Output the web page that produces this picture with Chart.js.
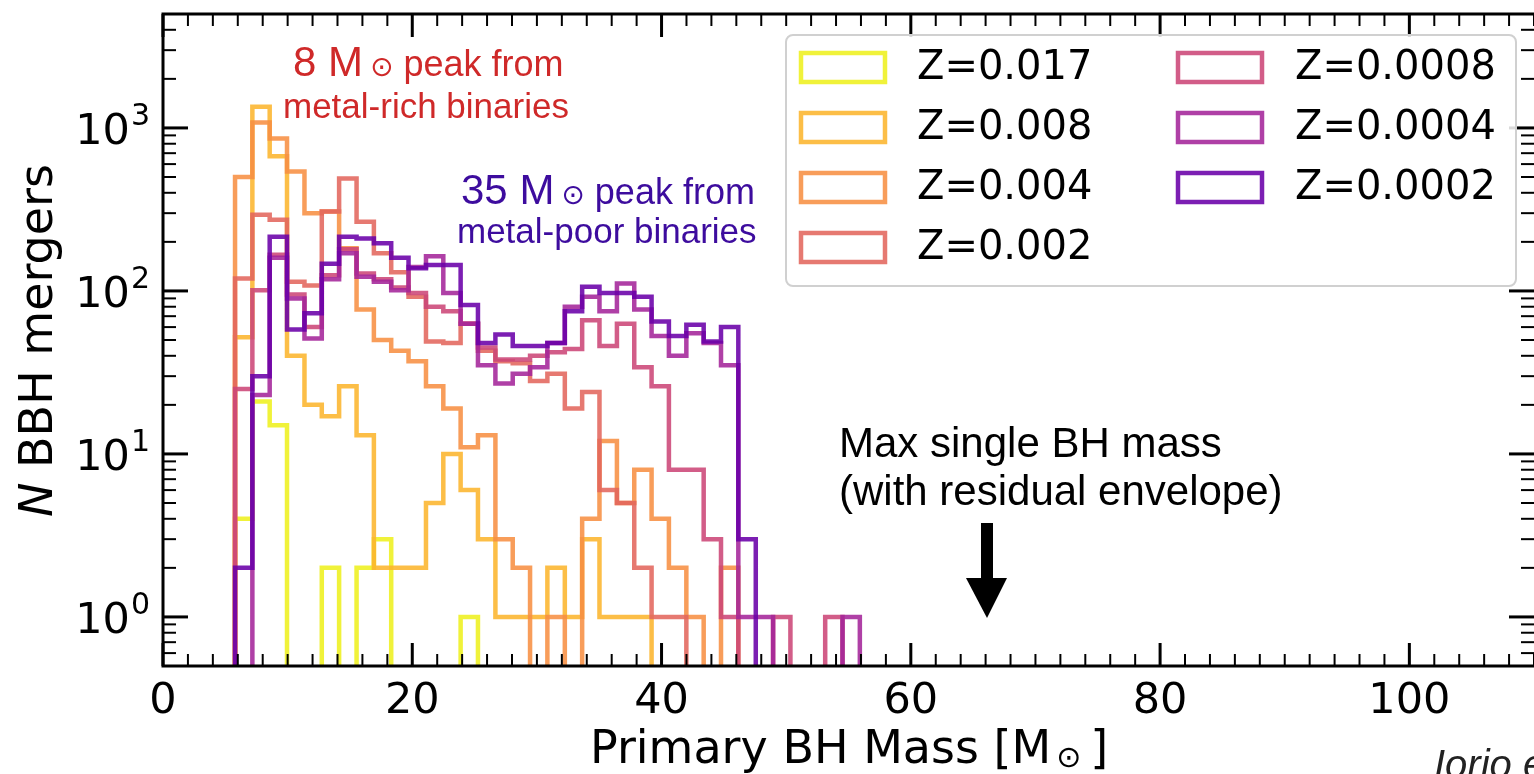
<!DOCTYPE html>
<html>
<head>
<meta charset="utf-8">
<script src="https://cdn.jsdelivr.net/npm/chart.js@4.4.1/dist/chart.umd.min.js"></script>
<style>
  html, body { margin: 0; padding: 0; background: #fff; overflow: hidden; }
  #wrap { width: 1534px; height: 774px; }
</style>
</head>
<body>
<div id="wrap"><canvas id="bbh" width="1534" height="774"></canvas></div>
<script>
/* ── Data: primary BH mass histograms per metallicity ── */
const binEdges = [5.78, 7.17, 8.56, 9.95, 11.35, 12.74, 14.13, 15.53, 16.92, 18.31,
  19.70, 21.10, 22.49, 23.88, 25.27, 26.67, 28.06, 29.45, 30.84, 32.24,
  33.63, 35.02, 36.42, 37.81, 39.20, 40.59, 41.99, 43.38, 44.77, 46.16,
  47.56, 48.95, 50.34, 51.73, 53.13, 54.52, 55.91];

const seriesLabels = ['Z=0.017', 'Z=0.008', 'Z=0.004', 'Z=0.002', 'Z=0.0008', 'Z=0.0004', 'Z=0.0002'];
const seriesColors = ['#eef01f', '#fcb52e', '#f79043', '#e3675d', '#cc4778', '#a4259a', '#6a00a8'];

const countsZ0017 = [4, 21, 15, 0, 0, 2, 0, 2, 3, 0, 0, 0, 0, 1];
const countsZ0008 = [52, 1350, 670, 40, 20, 17, 26, 13, 2, 2, 2, 5, 10, 6, 3, 1, 1, 1, 2, 1, 3, 1, 1, 1];
const countsZ0004 = [500, 1080, 860, 540, 300, 307, 183, 77, 50, 43, 37, 26, 19, 11, 13, 3, 2, 0, 1, 0,
  4, 12, 5, 8, 4, 2, 1, 0, 2];
const countsZ0002 = [119, 293, 273, 114, 108, 307, 490, 266, 170, 130, 92, 49, 48, 63, 43, 37, 36, 28, 31, 19,
  24, 6, 5, 2, 1, 1];
const countsZ00008 = [25, 101, 167, 95, 60, 125, 180, 128, 118, 105, 97, 80, 75, 63, 45, 38, 38, 40, 42, 44,
  66, 46, 63, 34, 26, 8, 8, 3, 1, 0, 0, 1, 0, 0, 1];
const countsZ00004 = [0, 23, 160, 90, 51, 118, 170, 122, 114, 101, 140, 163, 97, 63, 35, 27, 31, 34, 48, 80,
  92, 75, 111, 77, 53, 40, 55, 48, 35, 1, 1, 0, 0, 0, 0, 1];
const countsZ00002 = [2, 30, 215, 58, 73, 147, 215, 210, 196, 160, 138, 144, 144, 82, 48, 54, 46, 46, 48, 75,
  106, 97, 97, 92, 65, 53, 62, 49, 60, 3];

const seriesCounts = [countsZ0017, countsZ0008, countsZ0004, countsZ0002, countsZ00008, countsZ00004, countsZ00002];

const xTickLabels = [0, 20, 40, 60, 80, 100];
const yTickPowers = [0, 1, 2, 3];

/* ── Helpers ── */
const FLOOR = 0.1; // empty bins fall below the axis, like a log-scale step histogram
const TICK_FONT = { family: "'DejaVu Sans', sans-serif", size: 43 };

function withAlpha(hex, a) {
    const n = parseInt(hex.slice(1), 16);
    return `rgba(${(n >> 16) & 255}, ${(n >> 8) & 255}, ${n & 255}, ${a})`;
}

// outline of a step histogram: up at the first edge, across each bin, down at the end
function stepOutline(counts) {
    const pts = [{ x: binEdges[0], y: FLOOR }];
    counts.forEach((c, i) => pts.push({ x: binEdges[i], y: c > 0 ? c : FLOOR }));
    pts.push({ x: binEdges[counts.length], y: FLOOR });
    return pts;
}

/* ── Frame with inward ticks on all four sides, 10^n labels ── */
const frameTicks = {
    id: 'frameTicks',
    afterDatasetsDraw(chart) {
        const { ctx, chartArea: a, scales: { x, y } } = chart;
        ctx.save();
        ctx.strokeStyle = '#000';
        const seg = (x1, y1, x2, y2, w) => {
            ctx.lineWidth = w;
            ctx.beginPath(); ctx.moveTo(x1, y1); ctx.lineTo(x2, y2); ctx.stroke();
        };
        for (let v = x.min; v <= x.max; v += 2) {
            const px = x.getPixelForValue(v);
            const major = v % 20 === 0;
            const len = major ? 23 : 12;
            seg(px, a.bottom, px, a.bottom - len, major ? 3 : 2);
            seg(px, a.top, px, a.top + len, major ? 3 : 2);
        }
        for (let e = -1; e <= 4; e++) {
            for (let m = 1; m <= 9; m++) {
                const v = m * Math.pow(10, e);
                if (v < y.min || v > y.max) continue;
                const py = y.getPixelForValue(v);
                const major = m === 1;
                const len = major ? 25 : 13;
                seg(a.left, py, a.left + len, py, major ? 3 : 2);
                seg(a.right, py, a.right - len, py, major ? 3 : 2);
            }
        }
        // spines (the right one sits on the page edge)
        ctx.lineWidth = 3;
        ctx.beginPath();
        ctx.moveTo(a.right + 2, a.top);
        ctx.lineTo(a.left, a.top);
        ctx.lineTo(a.left, a.bottom);
        ctx.lineTo(a.right + 2, a.bottom);
        ctx.stroke();

        // y tick labels as 10 with a raised exponent
        ctx.fillStyle = '#000';
        ctx.textAlign = 'right';
        ctx.textBaseline = 'alphabetic';
        yTickPowers.forEach(p => {
            const py = y.getPixelForValue(Math.pow(10, p));
            const rx = a.left - 13;
            ctx.font = "30px 'DejaVu Sans', sans-serif";
            ctx.fillText(String(p), rx, py - 3);
            const ew = ctx.measureText(String(p)).width;
            ctx.font = "43px 'DejaVu Sans', sans-serif";
            ctx.fillText('10', rx - ew - 1, py + 16);
        });
        ctx.restore();
    }
};

/* ── Legend (two columns, hollow swatches) ── */
const boxLegend = {
    id: 'boxLegend',
    afterDraw(chart) {
        const { ctx } = chart;
        ctx.save();
        ctx.beginPath();
        ctx.roundRect(786, 35, 730, 251, 7);
        ctx.fillStyle = 'rgba(255,255,255,0.85)';
        ctx.fill();
        ctx.strokeStyle = '#d0d0d0';
        ctx.lineWidth = 2;
        ctx.stroke();

        ctx.font = "40px 'DejaVu Sans', sans-serif";
        ctx.textBaseline = 'middle';
        ctx.textAlign = 'left';
        chart.data.datasets.forEach((ds, i) => {
            const col = i < 4 ? 0 : 1;
            const row = i < 4 ? i : i - 4;
            const sx = col ? 1178 : 801;
            const sy = 53 + row * 60;
            ctx.strokeStyle = ds.borderColor;
            ctx.lineWidth = 4.5;
            ctx.strokeRect(sx, sy, 84, 29);
            ctx.fillStyle = '#000';
            ctx.fillText(ds.label, col ? 1295 : 917, sy + 16);
        });
        ctx.restore();
    }
};

/* ── Axis titles and annotations ── */
const annotations = {
    id: 'annotations',
    afterDraw(chart) {
        const { ctx } = chart;
        ctx.save();
        ctx.textAlign = 'left';
        ctx.textBaseline = 'alphabetic';

        // x title
        ctx.fillStyle = '#000';
        let cx = 590;
        ctx.font = "46px 'DejaVu Sans', sans-serif";
        const xt = 'Primary BH Mass [M';
        ctx.fillText(xt, cx, 763);
        cx += ctx.measureText(xt).width + 5;
        ctx.font = "30px 'DejaVu Sans', sans-serif";
        ctx.fillText('\u2299', cx, 767);
        cx += ctx.measureText('\u2299').width + 9;
        ctx.font = "46px 'DejaVu Sans', sans-serif";
        ctx.fillText(']', cx, 763);

        // y title
        ctx.save();
        ctx.translate(52, 517);
        ctx.rotate(-Math.PI / 2);
        ctx.font = "italic 46px 'DejaVu Sans', sans-serif";
        ctx.fillText('N', 0, 0);
        const nw = ctx.measureText('N').width;
        ctx.font = "46px 'DejaVu Sans', sans-serif";
        ctx.fillText(' BBH mergers', nw, 0);
        ctx.restore();

        const peakLabel = (x, base, num, color) => {
            ctx.fillStyle = color;
            ctx.font = "42px 'Liberation Sans', 'DejaVu Sans', sans-serif";
            ctx.fillText(num + ' M', x, base);
            let px = x + ctx.measureText(num + ' M').width + 7;
            ctx.font = "28px 'DejaVu Sans', sans-serif";
            ctx.fillText('\u2299', px, base);
            px += ctx.measureText('\u2299').width;
            ctx.font = "36px 'Liberation Sans', 'DejaVu Sans', sans-serif";
            ctx.fillText(' peak from', px, base);
        };
        peakLabel(293, 76, '8', '#cf2929');
        ctx.font = "35px 'Liberation Sans', 'DejaVu Sans', sans-serif";
        ctx.fillText('metal-rich binaries', 283, 118);

        peakLabel(461, 204, '35', '#3d0c9e');
        ctx.font = "35px 'Liberation Sans', 'DejaVu Sans', sans-serif";
        ctx.fillText('metal-poor binaries', 457, 243);

        // max single BH mass note and arrow
        ctx.fillStyle = '#000';
        ctx.font = "42px 'Liberation Sans', 'DejaVu Sans', sans-serif";
        ctx.fillText('Max single BH mass', 839, 457);
        ctx.fillText('(with residual envelope)', 839, 505);
        ctx.fillRect(981, 523, 12, 57);
        ctx.beginPath();
        ctx.moveTo(966, 578); ctx.lineTo(1007, 578); ctx.lineTo(987, 618); ctx.closePath();
        ctx.fill();

        ctx.fillStyle = '#222';
        ctx.font = "italic 40px 'Liberation Sans', 'DejaVu Sans', sans-serif";
        ctx.fillText('Iorio et al.', 1434, 778);
        ctx.restore();
    }
};

/* ── Chart ── */
const datasets = seriesCounts.map((counts, i) => ({
    label: seriesLabels[i],
    data: stepOutline(counts),
    borderColor: withAlpha(seriesColors[i], 0.88),
    backgroundColor: 'transparent',
    borderWidth: 4.5,
    stepped: true,
    pointRadius: 0,
    fill: false,
    order: seriesCounts.length - 1 - i
}));

new Chart(document.getElementById('bbh'), {
    type: 'line',
    data: { datasets },
    options: {
        responsive: false,
        devicePixelRatio: 1,
        animation: false,
        events: [],
        layout: { padding: { top: 14, right: 0, bottom: 0, left: 0 } },
        plugins: { legend: { display: false }, tooltip: { enabled: false } },
        scales: {
            x: {
                type: 'linear',
                min: 0,
                max: 110,
                grid: { display: false, drawTicks: false },
                border: { display: false },
                ticks: {
                    stepSize: 20,
                    autoSkip: false,
                    maxRotation: 0,
                    padding: 10,
                    color: '#000',
                    font: TICK_FONT,
                    callback: v => xTickLabels.includes(v) ? String(v) : ''
                },
                afterFit: s => { s.height = 108; s.paddingLeft = 0; s.paddingRight = 0; }
            },
            y: {
                type: 'logarithmic',
                min: 0.5,
                max: 5000,
                grid: { display: false, drawTicks: false },
                border: { display: false },
                ticks: { autoSkip: false, display: false },
                afterFit: s => { s.width = 163; s.paddingTop = 0; s.paddingBottom = 0; }
            }
        }
    },
    plugins: [frameTicks, boxLegend, annotations]
});
</script>
</body>
</html>
